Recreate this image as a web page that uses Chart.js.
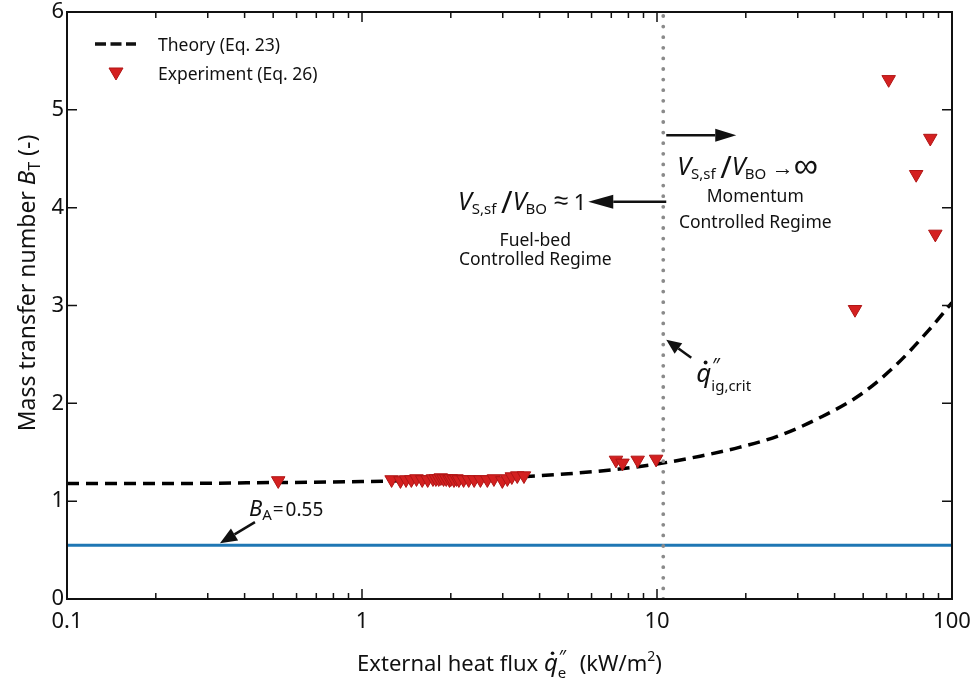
<!DOCTYPE html>
<html>
<head>
<meta charset="utf-8">
<script src="https://cdn.jsdelivr.net/npm/chart.js@4.4.0/dist/chart.umd.min.js"></script>
<style>
  html, body { margin: 0; padding: 0; background: #fff; overflow: hidden; }
  canvas { display: block; }
</style>
</head>
<body>
<canvas id="chart" width="973" height="690"></canvas>
<script>
// theory curve (Eq. 23)
const theoryFlux = [0.1, 0.2, 0.5, 1, 2, 3, 5, 7, 10, 14, 19, 26, 36, 49, 64, 83, 100];
const theoryB = [1.18, 1.18, 1.19, 1.20, 1.22, 1.24, 1.28, 1.32, 1.38, 1.46, 1.55, 1.67, 1.86, 2.09, 2.38, 2.74, 3.03];

// experiment points (Eq. 26)
const expFlux = [0.52,
	1.26, 1.35, 1.41, 1.47, 1.53, 1.60, 1.67, 1.74, 1.78, 1.82, 1.85, 1.89, 1.93, 1.98, 2.00,
	2.05, 2.09, 2.13, 2.21, 2.30, 2.40, 2.52, 2.66, 2.80, 2.99, 3.11, 3.22, 3.36, 3.54,
	7.26, 7.64, 8.6, 9.93,
	46.9, 61, 75.6, 84.4, 87.8];
const expB = [1.21,
	1.22, 1.21, 1.22, 1.22, 1.23, 1.22, 1.22, 1.23, 1.23, 1.23, 1.24, 1.23, 1.23, 1.22, 1.23,
	1.22, 1.23, 1.22, 1.22, 1.22, 1.22, 1.22, 1.22, 1.23, 1.21, 1.23, 1.25, 1.26, 1.26,
	1.42, 1.39, 1.42, 1.43,
	2.96, 5.31, 4.34, 4.71, 3.73];

const qCrit = 10.5;
const bA = 0.55;
const xRange = [0.1, 100];
const xTicks = [0.1, 1, 10, 100];
const yTicks = [0, 1, 2, 3, 4, 5, 6];

const FONT = "'Noto Sans', sans-serif";
const RED = "#d42020";

const fnt = (s, it) => (it ? "italic " : "") + s + "px " + FONT;

// draws text made of parts (normal, italic, sub/superscripts)
drawRich = (ctx, parts, x, y, align) => {
	let total = 0;
	parts.forEach((p) => {
		if (p.sup !== undefined || p.sub !== undefined) {
			ctx.font = fnt(p.s, false);
			p.w = Math.max(ctx.measureText(p.sup || "").width, ctx.measureText(p.sub || "").width);
		} else {
			ctx.font = fnt(p.s, p.i);
			p.w = ctx.measureText(p.t).width;
		}
		total += p.w + (p.gap || 0);
	});
	let cx = align === "center" ? x - total / 2 : align === "right" ? x - total : x;
	ctx.textBaseline = "alphabetic";
	ctx.textAlign = "left";
	parts.forEach((p) => {
		if (p.sup !== undefined || p.sub !== undefined) {
			ctx.font = fnt(p.ss || p.s, false);
			if (p.sup) ctx.fillText(p.sup, cx + (p.supdx || 0), y - p.up);
			ctx.font = fnt(p.s, false);
			if (p.sub) ctx.fillText(p.sub, cx, y + p.down);
		} else {
			ctx.font = fnt(p.s, p.i);
			ctx.fillText(p.t, cx, y + (p.dy || 0));
			if (p.dot) {
				ctx.beginPath();
				ctx.arc(cx + p.w * 0.62, y - p.s * 0.74, p.s * 0.075, 0, 2 * Math.PI);
				ctx.fill();
			}
		}
		cx += p.w + (p.gap || 0);
	});
};

drawArrow = (ctx, x1, y1, x2, y2, head, half, lw) => {
	const a = Math.atan2(y2 - y1, x2 - x1);
	const bx = x2 - head * Math.cos(a), by = y2 - head * Math.sin(a);
	ctx.lineWidth = lw;
	ctx.beginPath();
	ctx.moveTo(x1, y1);
	ctx.lineTo(bx, by);
	ctx.stroke();
	ctx.beginPath();
	ctx.moveTo(x2, y2);
	ctx.lineTo(bx + half * Math.sin(a), by - half * Math.cos(a));
	ctx.lineTo(bx - half * Math.sin(a), by + half * Math.cos(a));
	ctx.closePath();
	ctx.fill();
};

const noPad = (s) => {
	s.paddingLeft = 0;
	s.paddingRight = 0;
	s.paddingTop = 0;
	s.paddingBottom = 0;
};

const decor = {
	id: "decor",
	afterDraw(chart) {
		const ctx = chart.ctx;
		const ca = chart.chartArea;
		const xs = chart.scales.x, ys = chart.scales.y;
		ctx.save();
		ctx.fillStyle = "#111";
		ctx.strokeStyle = "#111";

		// frame, one side at a time
		const L = Math.round(ca.left), R = Math.round(ca.right);
		const T = Math.round(ca.top), B = Math.round(ca.bottom);
		ctx.lineWidth = 2;
		ctx.beginPath();
		ctx.moveTo(L, T - 1); ctx.lineTo(L, B + 1);
		ctx.moveTo(R, T - 1); ctx.lineTo(R, B + 1);
		ctx.moveTo(L - 1, T); ctx.lineTo(R + 1, T);
		ctx.moveTo(L - 1, B); ctx.lineTo(R + 1, B);
		ctx.stroke();

		// inward ticks, x (major + minor), bottom and top
		ctx.lineWidth = 1.5;
		for (let d = 0.1; d < 100; d *= 10) {
			for (let m = 1; m < 10; m++) {
				const px = xs.getPixelForValue(d * m);
				const len = m === 1 ? 10 : 6;
				ctx.beginPath();
				ctx.moveTo(px, B); ctx.lineTo(px, B - len);
				ctx.moveTo(px, T); ctx.lineTo(px, T + len);
				ctx.stroke();
			}
		}
		yTicks.forEach((v) => {
			const py = ys.getPixelForValue(v);
			ctx.beginPath();
			ctx.moveTo(L, py); ctx.lineTo(L + 10, py);
			ctx.moveTo(R, py); ctx.lineTo(R - 10, py);
			ctx.stroke();
		});

		// axis titles
		drawRich(ctx, [
			{ t: "External heat flux ", s: 22 },
			{ t: "q", s: 24, i: true, dot: true },
			{ sup: "\u2033", sub: "e", s: 15, ss: 18, up: 8, down: 7, supdx: 1, gap: 2 },
			{ t: "  (kW/m", s: 22 },
			{ sup: "2", s: 14, up: 10 },
			{ t: ")", s: 22 },
		], (ca.left + ca.right) / 2, 671, "center");

		ctx.save();
		ctx.translate(35, 283);
		ctx.rotate(-Math.PI / 2);
		drawRich(ctx, [
			{ t: "Mass transfer number ", s: 23 },
			{ t: "B", s: 24, i: true },
			{ sub: "T", s: 16, down: 5 },
			{ t: " (-)", s: 23 },
		], 0, 0, "center");
		ctx.restore();

		// legend
		ctx.save();
		ctx.lineWidth = 3.5;
		ctx.setLineDash([11, 4.5]);
		ctx.beginPath();
		ctx.moveTo(95, 44); ctx.lineTo(136, 44);
		ctx.stroke();
		ctx.restore();
		ctx.fillStyle = RED;
		ctx.strokeStyle = "#b01515";
		ctx.lineWidth = 1;
		ctx.beginPath();
		ctx.moveTo(109, 68); ctx.lineTo(123, 68); ctx.lineTo(116, 80);
		ctx.closePath(); ctx.fill(); ctx.stroke();
		ctx.fillStyle = "#111";
		ctx.strokeStyle = "#111";
		ctx.font = fnt(17.5, false);
		ctx.textAlign = "left";
		ctx.textBaseline = "middle";
		ctx.fillText("Theory (Eq. 23)", 158, 46);
		ctx.fillText("Experiment (Eq. 26)", 158, 75);

		// regime annotations
		const xc = xs.getPixelForValue(qCrit);
		const yR = ys.getPixelForValue(4.74);
		const yL = ys.getPixelForValue(4.06);
		drawArrow(ctx, xc + 3, yR, xc + 73, yR, 21, 6.5, 2.5);
		drawArrow(ctx, xc + 3, yL, xc - 75, yL, 25, 7, 2.5);

		const ratio = (tail) => [
			{ t: "V", s: 25, i: true },
			{ sub: "S,sf", s: 15, down: 4 },
			{ t: "  ", s: 9 },
			{ t: "/", s: 31, dy: 3 },
			{ t: "V", s: 25, i: true, gap: -1 },
			{ sub: "BO", s: 15, down: 4 },
		].concat(tail);

		drawRich(ctx, ratio([
			{ t: " \u2248", s: 26, dy: -1 },
			{ t: " 1", s: 22, gap: 1 },
		]), xc - 76, yL + 8, "right");
		ctx.font = fnt(17.5, false);
		ctx.textAlign = "center";
		ctx.textBaseline = "alphabetic";
		ctx.fillText("Fuel-bed", xc - 128, yL + 44);
		ctx.fillText("Controlled Regime", xc - 128, yL + 63);

		drawRich(ctx, ratio([
			{ t: " \u2192", s: 22 },
			{ t: "\u221e", s: 34, dy: 2 },
		]), xc + 14, yR + 40, "left");
		ctx.font = fnt(17.5, false);
		ctx.textAlign = "center";
		ctx.textBaseline = "alphabetic";
		ctx.fillText("Momentum", xc + 92, yR + 67);
		ctx.fillText("Controlled Regime", xc + 92, yR + 93);

		// critical heat flux label
		const yq = ys.getPixelForValue(2.65);
		drawArrow(ctx, xc + 28, yq + 18, xc + 3, yq, 15, 6.5, 2.5);
		drawRich(ctx, [
			{ t: "q", s: 26, i: true, dot: true },
			{ sup: "\u2033", sub: "ig,crit", s: 15, ss: 19, up: 10, down: 9, supdx: 1 },
		], xc + 33, yq + 42, "left");

		// B_A label
		const yb = ys.getPixelForValue(bA);
		const xb = xs.getPixelForValue(0.33);
		drawArrow(ctx, xb + 35, yb - 23, xb, yb - 2, 17, 7, 2.5);
		drawRich(ctx, [
			{ t: "B", s: 22, i: true },
			{ sub: "A", s: 15, down: 4, gap: 1 },
			{ t: "=", s: 19, gap: 2 },
			{ t: "0.55", s: 19 },
		], xb + 29, yb - 29, "left");

		ctx.restore();
	},
};

const ctx = document.querySelector("#chart");

const theoryData = theoryFlux.map((q, i) => ({ x: q, y: theoryB[i] }));
const expData = expFlux.map((q, i) => ({ x: q, y: expB[i] }));
const baseLine = xRange.map((q) => ({ x: q, y: bA }));
const critLine = [0, 6].map((b) => ({ x: qCrit, y: b }));

new Chart(ctx, {
	type: "scatter",
	data: {
		datasets: [
			{
				label: "Experiment (Eq. 26)",
				data: expData,
				pointStyle: "triangle",
				rotation: 180,
				pointRadius: 7.8,
				backgroundColor: RED,
				borderColor: "#b01515",
				borderWidth: 1,
				order: 0,
			},
			{
				label: "qcrit",
				data: critLine,
				showLine: true,
				pointRadius: 0,
				borderColor: "#8a8a8a",
				borderWidth: 3.8,
				borderDash: [0, 10.6],
				borderCapStyle: "round",
				order: 1,
			},
			{
				label: "Theory (Eq. 23)",
				data: theoryData,
				showLine: true,
				pointRadius: 0,
				borderColor: "#000",
				borderWidth: 3.5,
				borderDash: [12, 7],
				cubicInterpolationMode: "monotone",
				order: 2,
			},
			{
				label: "B_A",
				data: baseLine,
				showLine: true,
				pointRadius: 0,
				borderColor: "#1f77b4",
				borderWidth: 3,
				order: 3,
			},
		],
	},
	options: {
		responsive: false,
		animation: false,
		devicePixelRatio: 1,
		layout: { padding: { top: 12, right: 21, left: 0, bottom: 0 } },
		plugins: {
			legend: { display: false },
			tooltip: { enabled: false },
		},
		scales: {
			x: {
				type: "logarithmic",
				min: xRange[0],
				max: xRange[1],
				afterBuildTicks: (s) => { s.ticks = xTicks.map((v) => ({ value: v })); },
				afterFit: (s) => { s.height = 91; noPad(s); },
				ticks: {
					font: { family: FONT, size: 22 },
					color: "#111",
					padding: 10,
					maxRotation: 0,
					autoSkip: false,
					callback: (v) => String(v),
				},
				grid: { display: false, drawTicks: false },
				border: { display: false },
			},
			y: {
				min: 0,
				max: 6,
				afterBuildTicks: (s) => { s.ticks = yTicks.map((v) => ({ value: v })); },
				afterFit: (s) => { s.width = 67; noPad(s); },
				ticks: {
					font: { family: FONT, size: 22 },
					color: "#111",
					padding: 3,
				},
				grid: { display: false, drawTicks: false },
				border: { display: false },
			},
		},
	},
	plugins: [decor],
});
</script>
</body>
</html>
